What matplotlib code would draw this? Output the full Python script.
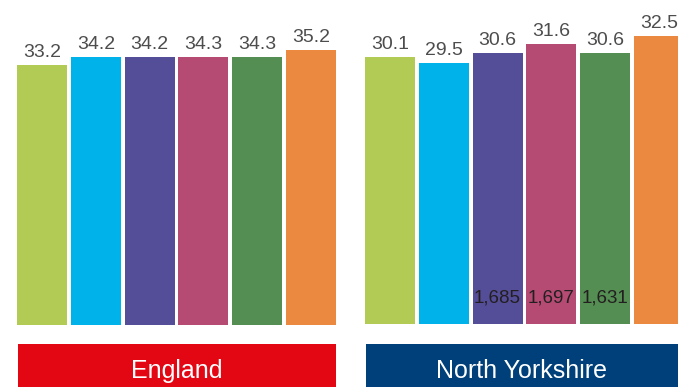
"""
Two panels of coloured bars with a coloured name box below each panel.
"""

from matplotlib import pyplot as plt
from matplotlib.patches import Rectangle

bar_colors = ["#b2cb55", "#00b2ea", "#544d98", "#b54b73", "#548e52", "#ea893f"]

england_values = [33.2, 34.2, 34.2, 34.3, 34.3, 35.2]
north_yorkshire_values = [30.1, 29.5, 30.6, 31.6, 30.6, 32.5]
north_yorkshire_counts = [None, None, "1,685", "1,697", "1,631", None]

panel_names = ["England", "North Yorkshire"]
panel_colors = ["#e30613", "#00407a"]

W, H = 678, 387
LABEL_FONT = ["Liberation Sans Narrow", "Liberation Sans"]


def px_box(left, top, right, bottom):
    # pixel box (from top-left) -> figure fraction [x, y, w, h]
    return [left / W, 1 - bottom / H, (right - left) / W, (bottom - top) / H]


def draw_panel(fig, rect, values, ymax, counts=None):
    ax = fig.add_axes(rect)
    xs = range(len(values))
    ax.bar(xs, values, width=0.93, color=bar_colors)
    ax.set_xlim(-0.465, len(values) - 1 + 0.465)
    ax.set_ylim(0, ymax)
    ax.axis("off")
    for x, v in zip(xs, values):
        ax.annotate(f"{v:.1f}", (x, v), xytext=(0, 5.8), textcoords="offset points",
                    ha="center", va="baseline", fontsize=14, color="#4d4d4d",
                    family=LABEL_FONT)
    if counts:
        for x, c in zip(xs, counts):
            if c:
                ax.annotate(c, (x, 0), xytext=(0, 15.8), textcoords="offset points",
                            ha="center", va="baseline", fontsize=13.5, color="#231f20",
                            family=LABEL_FONT)
    return ax


def _main():
    fig = plt.figure(figsize=(6.78, 3.87), dpi=100)

    draw_panel(fig, px_box(17, 0, 336, 324.5), england_values, 41.55)
    draw_panel(fig, px_box(365, 0, 684, 324), north_yorkshire_values, 36.56,
               north_yorkshire_counts)

    # name boxes under each panel
    boxes = [(18, 336), (366, 680)]
    for (left, right), name, color in zip(boxes, panel_names, panel_colors):
        x0, y0, w, h = px_box(left, 344, right, 390)
        fig.patches.append(Rectangle((x0, y0), w, h, transform=fig.transFigure,
                                     facecolor=color, edgecolor="none"))
        fig.text((left + min(right, W)) / 2 / W, 1 - 378 / H, name, ha="center",
                 va="baseline", fontsize=18, color="white", family="Liberation Sans")

    fig.savefig("out.png", dpi=100)


if __name__ == "__main__":
    _main()
